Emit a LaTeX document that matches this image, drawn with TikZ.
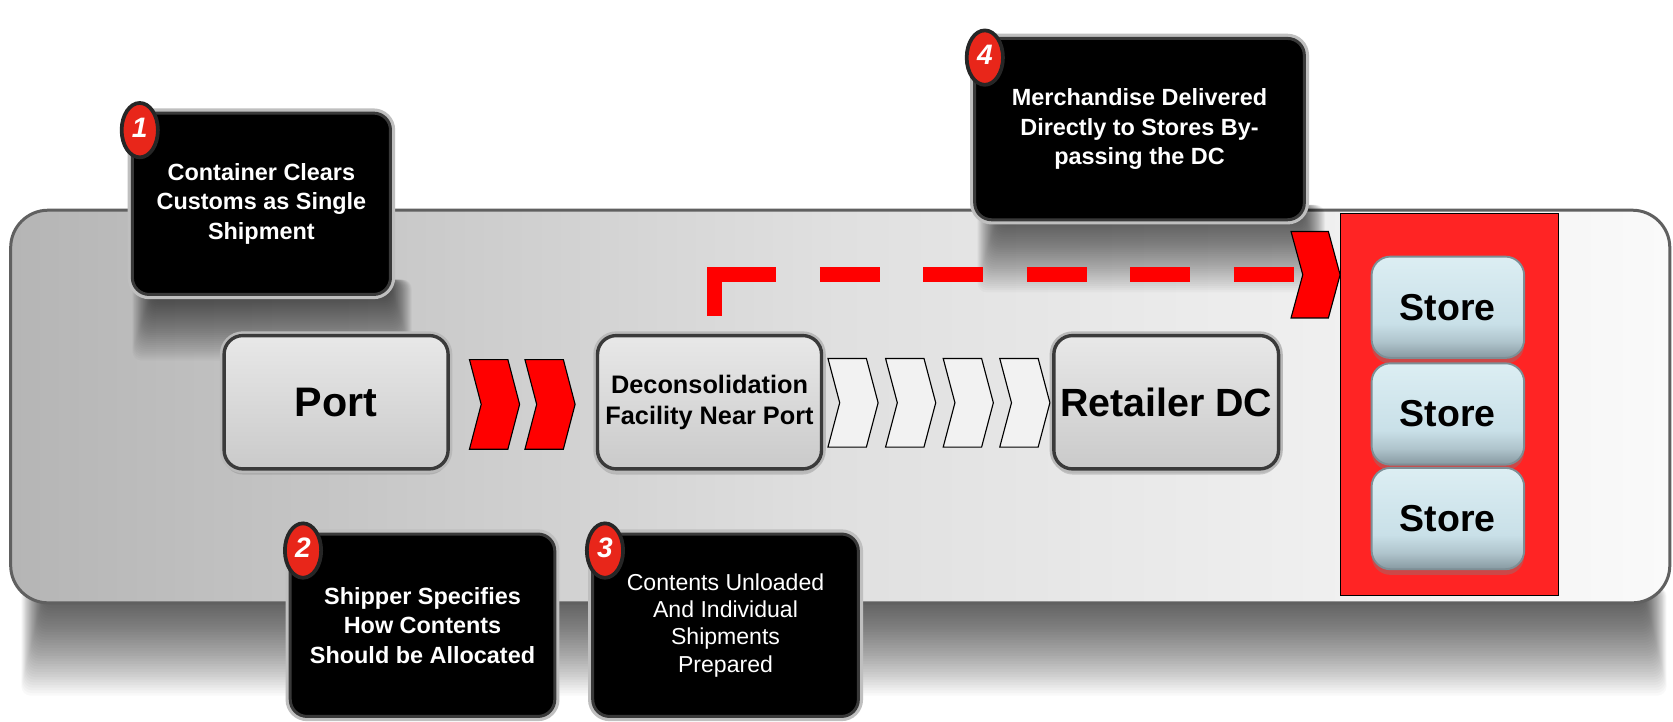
\documentclass[tikz,border=0pt]{standalone}
\usepackage{fontspec}
\setmainfont{Liberation Sans}
\usetikzlibrary{shapes.geometric, shadows}

\definecolor{bandgrey}{HTML}{B5B5B5}
\definecolor{bandmid}{HTML}{E0E0E0}
\definecolor{bandlight}{HTML}{FAFAFA}
\definecolor{stagetop}{HTML}{E8E8E8}
\definecolor{stagebot}{HTML}{CACACA}
\definecolor{stagerim}{HTML}{3A3A3A}
\definecolor{storelight}{HTML}{DCEEF3}
\definecolor{storetop}{HTML}{C9E0E8}
\definecolor{storemid}{HTML}{AFC4CC}
\definecolor{storebot}{HTML}{8799A1}
\definecolor{storerim}{HTML}{7D8E95}
\definecolor{badgered}{HTML}{E8261A}
\definecolor{zonered}{HTML}{FF2424}

% light button face, darker lip along the bottom
\pgfdeclareverticalshading{storeshade}{100bp}{color(0bp)=(storebot); color(25bp)=(storebot);
  color(33bp)=(storemid); color(42bp)=(storetop); color(75bp)=(storelight);
  color(100bp)=(storelight)}

\tikzset{%
    band/.style={rounded corners=20pt, left color=bandgrey, right color=bandlight,
        middle color=bandmid, draw=gray!75!black, line width=1.6pt},
    stage/.style={rectangle, rounded corners=10pt, top color=stagetop,
        bottom color=stagebot, draw=stagerim, line width=1.8pt,
        drop shadow={shadow xshift=0pt, shadow yshift=-3pt, opacity=.35},
        preaction={draw=gray!55, line width=4.5pt},
        minimum width=4.2cm, minimum height=2.5cm, align=center,
        font=\bfseries\fontsize{22}{26}\selectfont},
    store/.style={rectangle, rounded corners=10pt, shading=storeshade,
        draw=storerim, line width=1pt,
        drop shadow={shadow xshift=0pt, shadow yshift=-3pt, opacity=.4},
        minimum width=2.86cm, minimum height=1.9cm,
        font=\bfseries\fontsize{20}{24}\selectfont},
    note/.style={rectangle, rounded corners=9pt, fill=black,
        draw=gray!45!black, line width=1.6pt,
        preaction={draw=gray!50, line width=5pt},
        minimum height=3.42cm, text=white, align=center,
        font=\bfseries\fontsize{12.5}{15.8}\selectfont},
    badge/.style={ellipse, fill=badgered, draw=gray!30!black, line width=2pt,
        minimum width=0.68cm, minimum height=1.02cm, inner sep=0pt, text=white,
        font=\bfseries\itshape\fontsize{15}{15}\selectfont},
    redchev/.style={fill=red, draw=black, line width=.6pt, line join=miter},
    whitechev/.style={fill=white!95!black, draw=black, line width=.6pt},
    redzone/.style={fill=zonered, draw=black, line width=.6pt},
    bypass/.style={draw=red, line width=8pt,
        dash pattern=on 55.2pt off 23.3pt on 31.9pt off 23.3pt on 31.9pt
        off 23.3pt on 31.9pt off 23.3pt on 31.9pt off 23.3pt on 31.9pt off 30pt}
}

% #2 left x, #3 top y, #4 bottom y, #5 width, #6 depth of the notch
\newcommand{\chevron}[6][]{%
  \draw[#1] (#2,#3) -- ({#2+#5-#6},#3) -- ({#2+#5},{(#3+#4)/2})
    -- ({#2+#5-#6},#4) -- (#2,#4) -- ({#2+#6},{(#3+#4)/2}) -- cycle;}

% soft shadow: stacked see-through layers, darkest at the top
\newcommand{\softshadow}[4]{%
  \foreach \k in {0,...,39}
    \fill[black, opacity=.023, rounded corners=5pt]
      ({#1+0.6*\k},#2) rectangle ({#3-0.6*\k},{#4-(#4-#2)*\k/41});}

\begin{document}
\begin{tikzpicture}[x=0.02cm, y=-0.02cm]
  \fill[white, use as bounding box] (0,0) rectangle (1568,676);

  \softshadow{20}{550}{1562}{652}
  \draw[band] (10,197) rectangle (1565,565);

  % shadows of the upper notes
  \softshadow{124}{262}{386}{338}
  \softshadow{916}{192}{1242}{274}

  \node (port) [stage] at (315,377) {Port};
  \node (dcon) [stage, font=\bfseries\fontsize{13.5}{16.5}\selectfont] at (665,377)
    {Deconsolidation\\Facility Near Port};
  \node (rdc) [stage, font=\bfseries\fontsize{21}{25}\selectfont] at (1093,377) {Retailer DC};

  \foreach \x in {440,492} {\chevron[redchev]{\x}{337}{421}{47}{11}}
  \foreach \x in {776,830,884,937} {\chevron[whitechev]{\x}{336}{419}{47}{11}}

  \draw[redzone] (1256,200) rectangle (1461,558);
  \foreach \i/\y in {1/288, 2/388, 3/486}
    \node (s\i) [store] at (1357,\y) {Store};

  \coordinate (byp) at ([xshift=0.09cm, yshift=0.34cm]dcon.north);
  \coordinate (hd) at (1221,257);
  \draw[bypass] (byp) |- (hd);
  \chevron[redchev]{1210}{217}{298}{46}{11}

  \node (c1) [note, minimum width=4.84cm, minimum height=3.4cm] at (245,191)
    {Container Clears\\Customs as Single\\Shipment};
  \node (c2) [note, minimum width=4.96cm] at (396,586)
    {Shipper Specifies\\How Contents\\Should be Allocated};
  \node (c3) [note, minimum width=4.98cm, font=\fontsize{12.3}{14.6}\selectfont] at (680,586)
    {Contents Unloaded\\And Individual\\Shipments\\Prepared};
  \node (c4) [note, minimum width=6.18cm, minimum height=3.4cm] at (1068,121)
    {Merchandise Delivered\\Directly to Stores By-\\passing the DC};

  \foreach \n/\x/\y in {1/131/122, 2/284/516, 3/567/516, 4/923/54}
    \node (b\n) [badge] at (\x,\y) {\raisebox{3pt}{\n}};
\end{tikzpicture}
\end{document}
